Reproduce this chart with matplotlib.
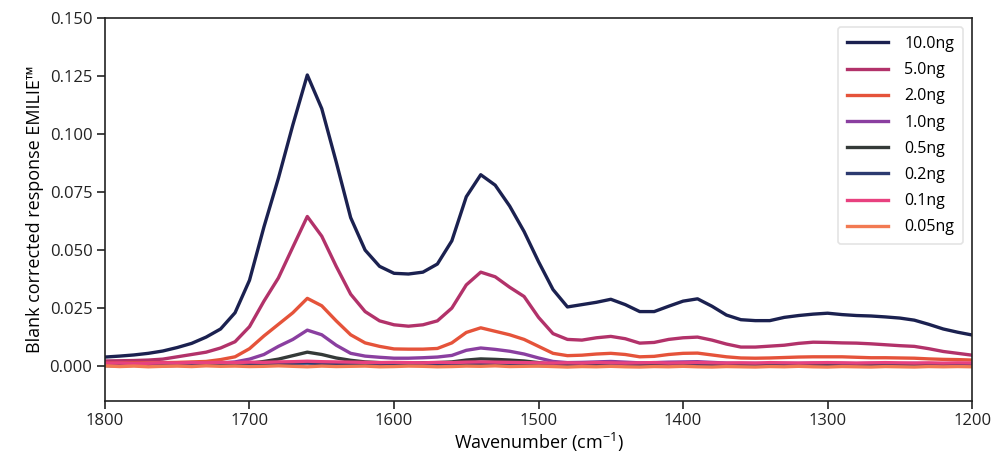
import numpy as np
import matplotlib
matplotlib.use("Agg")
import matplotlib.pyplot as plt

plt.rcParams['font.family'] = ['Open Sans', 'DejaVu Sans']
plt.rcParams['mathtext.default'] = 'regular'

# wavenumber grid (cm-1), 1800 -> 1200
wavenumber = np.arange(1800, 1199, -10)

labels = ["10.0ng", "5.0ng", "2.0ng", "1.0ng", "0.5ng", "0.2ng", "0.1ng", "0.05ng"]
colors = ["#1b2150", "#b2326a", "#e5533a", "#8a3fa0", "#343a38", "#2c3a70", "#e8417f", "#f27a52"]

ng_10 = [0.0039, 0.0043, 0.0048, 0.0055, 0.0065, 0.0080, 0.0098, 0.0125, 0.0160, 0.0230,
         0.0370, 0.0600, 0.0810, 0.1040, 0.1255, 0.1110, 0.0880, 0.0640, 0.0500, 0.0430,
         0.0400, 0.0397, 0.0405, 0.0440, 0.0540, 0.0730, 0.0825, 0.0780, 0.0690, 0.0580,
         0.0450, 0.0330, 0.0255, 0.0265, 0.0275, 0.0288, 0.0265, 0.0235, 0.0235, 0.0258,
         0.0280, 0.0290, 0.0258, 0.0220, 0.0200, 0.0196, 0.0196, 0.0210, 0.0218, 0.0224,
         0.0228, 0.0222, 0.0218, 0.0216, 0.0212, 0.0207, 0.0198, 0.0180, 0.0160, 0.0146,
         0.0134]
ng_5 = [0.0022, 0.0023, 0.0024, 0.0026, 0.0030, 0.0040, 0.0050, 0.0060, 0.0078, 0.0105,
        0.0170, 0.0280, 0.0380, 0.0513, 0.0645, 0.0560, 0.0430, 0.0310, 0.0235, 0.0195,
        0.0178, 0.0172, 0.0178, 0.0195, 0.0250, 0.0350, 0.0405, 0.0385, 0.0340, 0.0300,
        0.0210, 0.0140, 0.0115, 0.0112, 0.0122, 0.0128, 0.0118, 0.0099, 0.0102, 0.0115,
        0.0122, 0.0125, 0.0112, 0.0095, 0.0082, 0.0082, 0.0086, 0.0090, 0.0098, 0.0103,
        0.0102, 0.0100, 0.0099, 0.0096, 0.0092, 0.0088, 0.0085, 0.0075, 0.0063, 0.0055,
        0.0047]
ng_2 = [0.0013, 0.0013, 0.0014, 0.0014, 0.0015, 0.0016, 0.0018, 0.0020, 0.0028, 0.0040,
        0.0075, 0.0130, 0.0180, 0.0230, 0.0292, 0.0260, 0.0195, 0.0135, 0.0100, 0.0085,
        0.0074, 0.0073, 0.0073, 0.0076, 0.0100, 0.0145, 0.0165, 0.0150, 0.0135, 0.0115,
        0.0085, 0.0055, 0.0045, 0.0047, 0.0052, 0.0055, 0.0050, 0.0040, 0.0042, 0.0050,
        0.0055, 0.0056, 0.0048, 0.0040, 0.0035, 0.0034, 0.0035, 0.0037, 0.0039, 0.0040,
        0.0040, 0.0040, 0.0038, 0.0036, 0.0036, 0.0035, 0.0034, 0.0031, 0.0029, 0.0028,
        0.0026]
ng_1 = [0.0008, 0.0008, 0.0009, 0.0008, 0.0009, 0.0010, 0.0010, 0.0011, 0.0013, 0.0018,
        0.0030, 0.0050, 0.0085, 0.0115, 0.0155, 0.0135, 0.0090, 0.0055, 0.0043, 0.0038,
        0.0034, 0.0034, 0.0036, 0.0039, 0.0046, 0.0068, 0.0078, 0.0072, 0.0064, 0.0052,
        0.0035, 0.0020, 0.0015, 0.0016, 0.0018, 0.0020, 0.0017, 0.0014, 0.0015, 0.0017,
        0.0018, 0.0019, 0.0016, 0.0013, 0.0012, 0.0012, 0.0011, 0.0012, 0.0012, 0.0013,
        0.0012, 0.0012, 0.0011, 0.0012, 0.0011, 0.0011, 0.0012, 0.0011, 0.0010, 0.0010,
        0.0010]
ng_05 = [0.0005, 0.0006, 0.0005, 0.0006, 0.0007, 0.0006, 0.0007, 0.0008, 0.0008, 0.0009,
         0.0012, 0.0020, 0.0030, 0.0045, 0.0060, 0.0050, 0.0035, 0.0025, 0.0018, 0.0015,
         0.0013, 0.0013, 0.0014, 0.0015, 0.0018, 0.0026, 0.0031, 0.0029, 0.0026, 0.0022,
         0.0015, 0.0008, 0.0005, 0.0006, 0.0005, 0.0007, 0.0006, 0.0004, 0.0005, 0.0006,
         0.0006, 0.0007, 0.0005, 0.0004, 0.0005, 0.0004, 0.0005, 0.0006, 0.0005, 0.0005,
         0.0006, 0.0005, 0.0004, 0.0005, 0.0005, 0.0004, 0.0005, 0.0006, 0.0005, 0.0005,
         0.0006]
ng_02 = [0.0002, 0.0001, 0.0003, 0.0002, 0.0001, 0.0003, 0.0002, 0.0004, 0.0003, 0.0005,
         0.0006, 0.0008, 0.0010, 0.0012, 0.0013, 0.0011, 0.0009, 0.0007, 0.0005, 0.0004,
         0.0003, 0.0004, 0.0003, 0.0004, 0.0005, 0.0006, 0.0007, 0.0006, 0.0005, 0.0004,
         0.0002, 0.0001, 0.0000, 0.0001, 0.0000, 0.0002, 0.0001, 0.0000, -0.0001, 0.0001,
         0.0000, 0.0001, 0.0000, -0.0001, 0.0000, 0.0001, 0.0000, 0.0001, 0.0000, -0.0001,
         0.0000, 0.0001, 0.0000, 0.0000, 0.0001, 0.0000, -0.0001, 0.0000, 0.0001, 0.0002,
         0.0003]
ng_01 = [0.0012, 0.0013, 0.0011, 0.0012, 0.0014, 0.0013, 0.0015, 0.0014, 0.0016, 0.0015,
         0.0017, 0.0016, 0.0018, 0.0019, 0.0021, 0.0019, 0.0018, 0.0017, 0.0016, 0.0015,
         0.0016, 0.0015, 0.0014, 0.0016, 0.0015, 0.0017, 0.0018, 0.0017, 0.0016, 0.0015,
         0.0014, 0.0013, 0.0014, 0.0013, 0.0015, 0.0014, 0.0013, 0.0014, 0.0015, 0.0013,
         0.0014, 0.0015, 0.0014, 0.0013, 0.0014, 0.0013, 0.0015, 0.0014, 0.0013, 0.0014,
         0.0015, 0.0014, 0.0013, 0.0014, 0.0015, 0.0014, 0.0013, 0.0014, 0.0013, 0.0014,
         0.0013]
ng_005 = [0.0001, -0.0002, 0.0000, -0.0003, -0.0001, 0.0000, -0.0002, 0.0001, -0.0001, 0.0000,
          -0.0002, -0.0001, 0.0001, -0.0001, -0.0003, 0.0000, -0.0002, -0.0001, 0.0000, -0.0003,
          -0.0002, 0.0000, -0.0001, -0.0003, -0.0002, 0.0000, -0.0001, 0.0001, -0.0002, -0.0001,
          0.0000, -0.0002, -0.0004, -0.0002, -0.0003, -0.0001, -0.0003, -0.0004, -0.0002, -0.0003,
          -0.0001, -0.0003, -0.0004, -0.0002, -0.0003, -0.0004, -0.0002, -0.0003, -0.0001, -0.0003,
          -0.0004, -0.0002, -0.0003, -0.0004, -0.0002, -0.0003, -0.0004, -0.0002, -0.0003, -0.0002,
          -0.0003]

series = [ng_10, ng_5, ng_2, ng_1, ng_05, ng_02, ng_01, ng_005]

fig, ax = plt.subplots(figsize=(9.94, 4.54), dpi=100)
fig.subplots_adjust(left=0.1056, right=0.978, top=0.960, bottom=0.117)

for lab, col, ys in zip(labels, colors, series):
    ax.plot(wavenumber, ys, color=col, lw=2.4, label=lab)

ax.set_xlim(1800, 1200)
ax.set_ylim(-0.015, 0.150)
ax.set_xticks([1800, 1700, 1600, 1500, 1400, 1300, 1200])
ax.set_yticks([0.0, 0.025, 0.05, 0.075, 0.1, 0.125, 0.15])
ax.yaxis.set_major_formatter(matplotlib.ticker.FormatStrFormatter('%.3f'))

for s in ax.spines.values():
    s.set_linewidth(1.2)
    s.set_color("#222222")
ax.tick_params(direction='out', length=6, width=1.2, labelsize=12, colors="#222222", pad=3)

ax.set_xlabel("Wavenumber (cm$^{-1}$)", fontsize=13, labelpad=1)
ax.set_ylabel("Blank corrected response EMILIE\u2122", fontsize=13, labelpad=4)

leg = ax.legend(loc='upper right', fontsize=11.5, frameon=True, handlelength=2.6,
                borderpad=0.55, labelspacing=0.64, handletextpad=1.0,
                borderaxespad=0, bbox_to_anchor=(0.9896, 0.9765))
leg.get_frame().set_edgecolor("#dddddd")
leg.get_frame().set_linewidth(1.2)

plt.savefig("out.png", dpi=100)
